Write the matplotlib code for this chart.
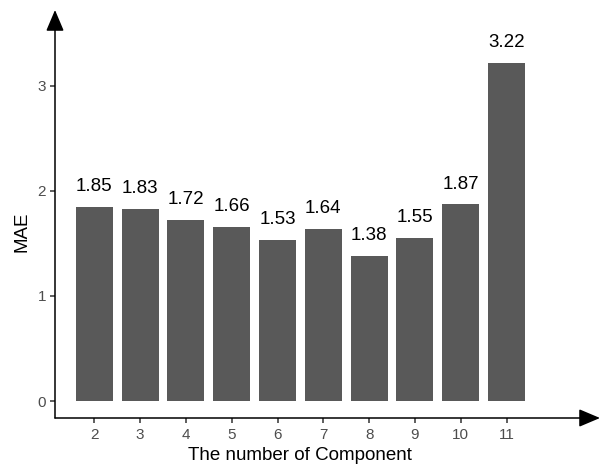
import matplotlib
matplotlib.use("Agg")
import matplotlib.pyplot as plt
import matplotlib.transforms as mtransforms

components = ["2", "3", "4", "5", "6", "7", "8", "9", "10", "11"]
mae = [1.85, 1.83, 1.72, 1.66, 1.53, 1.64, 1.38, 1.55, 1.87, 3.22]
yticks = [0, 1, 2, 3]

plt.rcParams['font.family'] = ['Liberation Sans', 'DejaVu Sans']

fig = plt.figure(figsize=(6.03, 4.68), dpi=100)
W, H = 603, 468
left_px, right_px, top_px, bottom_px = 55, 600, 10, 418
ax = fig.add_axes([left_px / W, (H - bottom_px) / H,
                   (right_px - left_px) / W, (bottom_px - top_px) / H])

x = list(range(1, len(components) + 1))
ax.bar(x, mae, width=0.81, color="#595959")
for xi, v in zip(x, mae):
    ax.annotate(f"{v:.2f}", (xi, v), xytext=(0, 11.5), textcoords="offset points",
                ha="center", va="baseline", fontsize=13.5, color="black")

ax.set_xlim(0.142, 12.04)
ax.set_ylim(-0.161, 3.72)
ax.set_xticks(x)
ax.set_xticklabels(components)
ax.set_yticks(yticks)
ax.tick_params(axis="both", colors="#333333", labelcolor="#4D4D4D", labelsize=11,
               length=3.5, width=1.1, direction="out")
ax.tick_params(axis="x", pad=4)
ax.tick_params(axis="y", pad=3)
for s in ax.spines.values():
    s.set_visible(False)

arrow = dict(arrowstyle="-|>,head_length=1.3,head_width=0.55",
             color="black", lw=1.1, shrinkA=0, shrinkB=0)
ax.annotate("", xy=(1.0, 0), xytext=(0, 0), xycoords="axes fraction", arrowprops=arrow)
ax.annotate("", xy=(0, 1.0), xytext=(0, 0), xycoords="axes fraction", arrowprops=arrow)

ax.set_xlabel("The number of Component", fontsize=13.5, color="black")
ax.set_ylabel("MAE", fontsize=13.5, color="black")
bx = mtransforms.blended_transform_factory(ax.transData, ax.transAxes)
by = mtransforms.blended_transform_factory(ax.transAxes, ax.transData)
ax.xaxis.set_label_coords(5.5, (bottom_px - 447) / (bottom_px - top_px), transform=bx)
ax.yaxis.set_label_coords((31 - left_px) / (right_px - left_px), 1.61, transform=by)

fig.savefig("out.png", dpi=100)
